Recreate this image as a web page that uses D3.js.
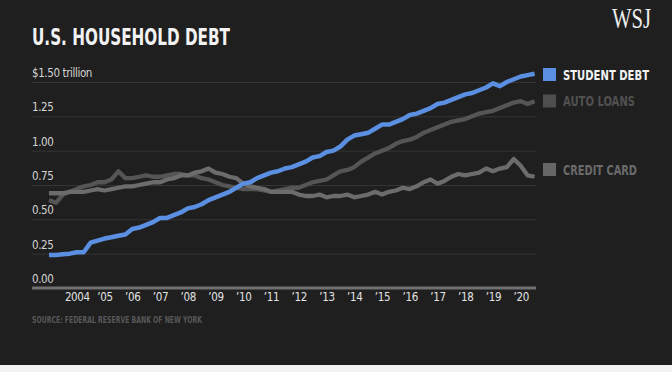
<!DOCTYPE html>
<html><head><meta charset="utf-8">
<script src="https://cdn.jsdelivr.net/npm/d3@7"></script>
<style>html,body{margin:0;padding:0;background:#1f1f1f;}svg{display:block;}</style>
</head><body>
<svg id="c" width="672" height="372"></svg>
<script>
// Quarterly data 2003 Q1 - 2020 Q3, trillions of dollars
const startYear = 2003;
const studentDebt = [
  0.24,0.24,0.245,0.25, 0.26,0.26,0.33,0.345, 0.36,0.37,0.38,0.39, 0.43,0.44,0.46,0.48,
  0.51,0.51,0.53,0.55, 0.58,0.59,0.61,0.64, 0.66,0.68,0.70,0.73, 0.76,0.77,0.80,0.82,
  0.84,0.85,0.87,0.88, 0.90,0.92,0.95,0.96, 0.99,1.00,1.03,1.08, 1.11,1.12,1.13,1.16,
  1.19,1.19,1.21,1.23, 1.26,1.27,1.29,1.31, 1.34,1.35,1.37,1.39, 1.41,1.42,1.44,1.46,
  1.49,1.47,1.50,1.52, 1.54,1.55,1.56];
const autoLoans = [
  0.64,0.62,0.68,0.70, 0.72,0.74,0.75,0.77, 0.77,0.79,0.85,0.80, 0.80,0.81,0.82,0.81,
  0.81,0.82,0.83,0.83, 0.82,0.82,0.80,0.79, 0.77,0.75,0.74,0.73, 0.72,0.72,0.72,0.71,
  0.70,0.71,0.72,0.73, 0.73,0.75,0.77,0.78, 0.79,0.82,0.85,0.86, 0.88,0.92,0.95,0.98,
  1.00,1.02,1.05,1.07, 1.08,1.10,1.13,1.15, 1.17,1.19,1.21,1.22, 1.23,1.25,1.27,1.28,
  1.29,1.31,1.33,1.35, 1.36,1.34,1.36];
const creditCard = [
  0.69,0.69,0.69,0.70, 0.70,0.70,0.71,0.72, 0.71,0.72,0.73,0.74, 0.74,0.75,0.76,0.77,
  0.77,0.79,0.80,0.82, 0.82,0.84,0.85,0.87, 0.84,0.83,0.81,0.80, 0.76,0.74,0.73,0.72,
  0.70,0.70,0.70,0.70, 0.68,0.67,0.67,0.68, 0.66,0.67,0.67,0.68, 0.66,0.67,0.68,0.70,
  0.68,0.70,0.71,0.73, 0.72,0.74,0.77,0.79, 0.76,0.78,0.81,0.83, 0.82,0.83,0.84,0.87,
  0.85,0.87,0.88,0.94, 0.89,0.82,0.81];
const yTicks = [0, 0.25, 0.5, 0.75, 1.0, 1.25, 1.5];
const yTickLabels = ["0.00","0.25","0.50","0.75","1.00","1.25","$1.50 trillion"];
const xTicks = [2004,2005,2006,2007,2008,2009,2010,2011,2012,2013,2014,2015,2016,2017,2018,2019,2020];
const xTickLabels = ["2004","\u201905","\u201906","\u201907","\u201908","\u201909","\u201910","\u201911","\u201912","\u201913","\u201914","\u201915","\u201916","\u201917","\u201918","\u201919","\u201920"];
const seriesNames = ["STUDENT DEBT","AUTO LOANS","CREDIT CARD"];

const svg = d3.select("#c");
const W = 672, H = 372;
const COND = "'DejaVu Sans Condensed','DejaVu Sans',sans-serif";
svg.append("rect").attr("width", W).attr("height", H).attr("fill", "#1f1f1f");
svg.append("rect").attr("x", 0).attr("y", 365).attr("width", W).attr("height", 7).attr("fill", "#f3f3f3");

const plotL = 32, plotR = 536;
const x = d3.scaleLinear().domain([2003, 2020.5]).range([49, 534.6]);
const y = d3.scaleLinear().domain([0, 1.5]).range([288, 82]);

// Title and logo
svg.append("text").attr("x", 32).attr("y", 44.5).text("U.S. HOUSEHOLD DEBT")
  .attr("font-family", COND).attr("font-weight", "bold").attr("font-size", 22.5)
  .attr("fill", "#f2f2f2").attr("textLength", 198).attr("lengthAdjust", "spacingAndGlyphs");
svg.append("text").attr("x", 612).attr("y", 28).text("WSJ")
  .attr("font-family", "'Liberation Serif','DejaVu Serif',serif").attr("font-size", 30)
  .attr("fill", "#efefef").attr("textLength", 39).attr("lengthAdjust", "spacingAndGlyphs");

// Y gridlines + labels
const yAxis = d3.axisRight(y).tickValues(yTicks.slice(1)).tickSize(plotR - plotL).tickFormat("");
const gy = svg.append("g").attr("transform", `translate(${plotL},0)`).call(yAxis);
gy.select(".domain").remove();
gy.selectAll(".tick line").attr("stroke", "#353535").attr("stroke-width", 1);
svg.append("g").selectAll("text").data(yTicks).join("text")
  .attr("x", plotL).attr("y", d => y(d) - 5)
  .text((d, i) => yTickLabels[i])
  .attr("font-family", COND).attr("font-size", 11.5).attr("letter-spacing", -0.4)
  .attr("fill", "#d4d4d4");

// X axis
const xAxis = d3.axisBottom(x).tickValues(xTicks).tickSize(0).tickPadding(0)
  .tickFormat((d, i) => xTickLabels[i]);
const gx = svg.append("g").attr("transform", `translate(0,${y(0)})`).call(xAxis);
gx.select(".domain").remove();
gx.selectAll(".tick text").attr("dy", 0).attr("y", 12.5)
  .attr("font-family", COND).attr("font-size", 11.5).attr("letter-spacing", -0.4).attr("fill", "#e2e2e2");
svg.append("line").attr("x1", plotL).attr("x2", plotR).attr("y1", y(0)).attr("y2", y(0))
  .attr("stroke", "#707070").attr("stroke-width", 3);

// Source
svg.append("text").attr("x", 32).attr("y", 323).text("SOURCE: FEDERAL RESERVE BANK OF NEW YORK")
  .attr("font-family", COND).attr("font-weight", "bold").attr("font-size", 8)
  .attr("fill", "#585858").attr("textLength", 170).attr("lengthAdjust", "spacingAndGlyphs");

// Lines
const line = d3.line().x((d, i) => x(startYear + i / 4)).y(d => y(d));
const series = [
  {name: seriesNames[1], values: autoLoans, color: "#555555", legend: "#4e4e4e", text: "#505050", w: 4.3},
  {name: seriesNames[2], values: creditCard, color: "#6c6c6c", legend: "#666666", text: "#6a6a6a", w: 4.3},
  {name: seriesNames[0], values: studentDebt, color: "#5b8fe1", legend: "#5b8fe1", text: "#f2f2f2", w: 4.5}
];
svg.append("g").selectAll("path").data(series).join("path")
  .attr("d", d => line(d.values)).attr("fill", "none")
  .attr("stroke", d => d.color).attr("stroke-width", d => d.w)
  .attr("stroke-linejoin", "round");

// Legend
const legY = {"STUDENT DEBT": 74.5, "AUTO LOANS": 101, "CREDIT CARD": 169.5};
const lg = svg.append("g").selectAll("g").data(series).join("g")
  .attr("transform", d => `translate(543,${legY[d.name]})`);
lg.append("rect").attr("x", 0).attr("y", -6.5).attr("width", 13).attr("height", 13).attr("fill", d => d.legend);
lg.append("text").attr("x", 20).attr("y", 5).text(d => d.name)
  .attr("font-family", COND).attr("font-weight", "bold").attr("font-size", 13.5)
  .attr("fill", d => d.text)
  .attr("textLength", d => d.name === "STUDENT DEBT" ? 86 : (d.name === "AUTO LOANS" ? 72 : 74))
  .attr("lengthAdjust", "spacingAndGlyphs");
</script>
</body></html>
